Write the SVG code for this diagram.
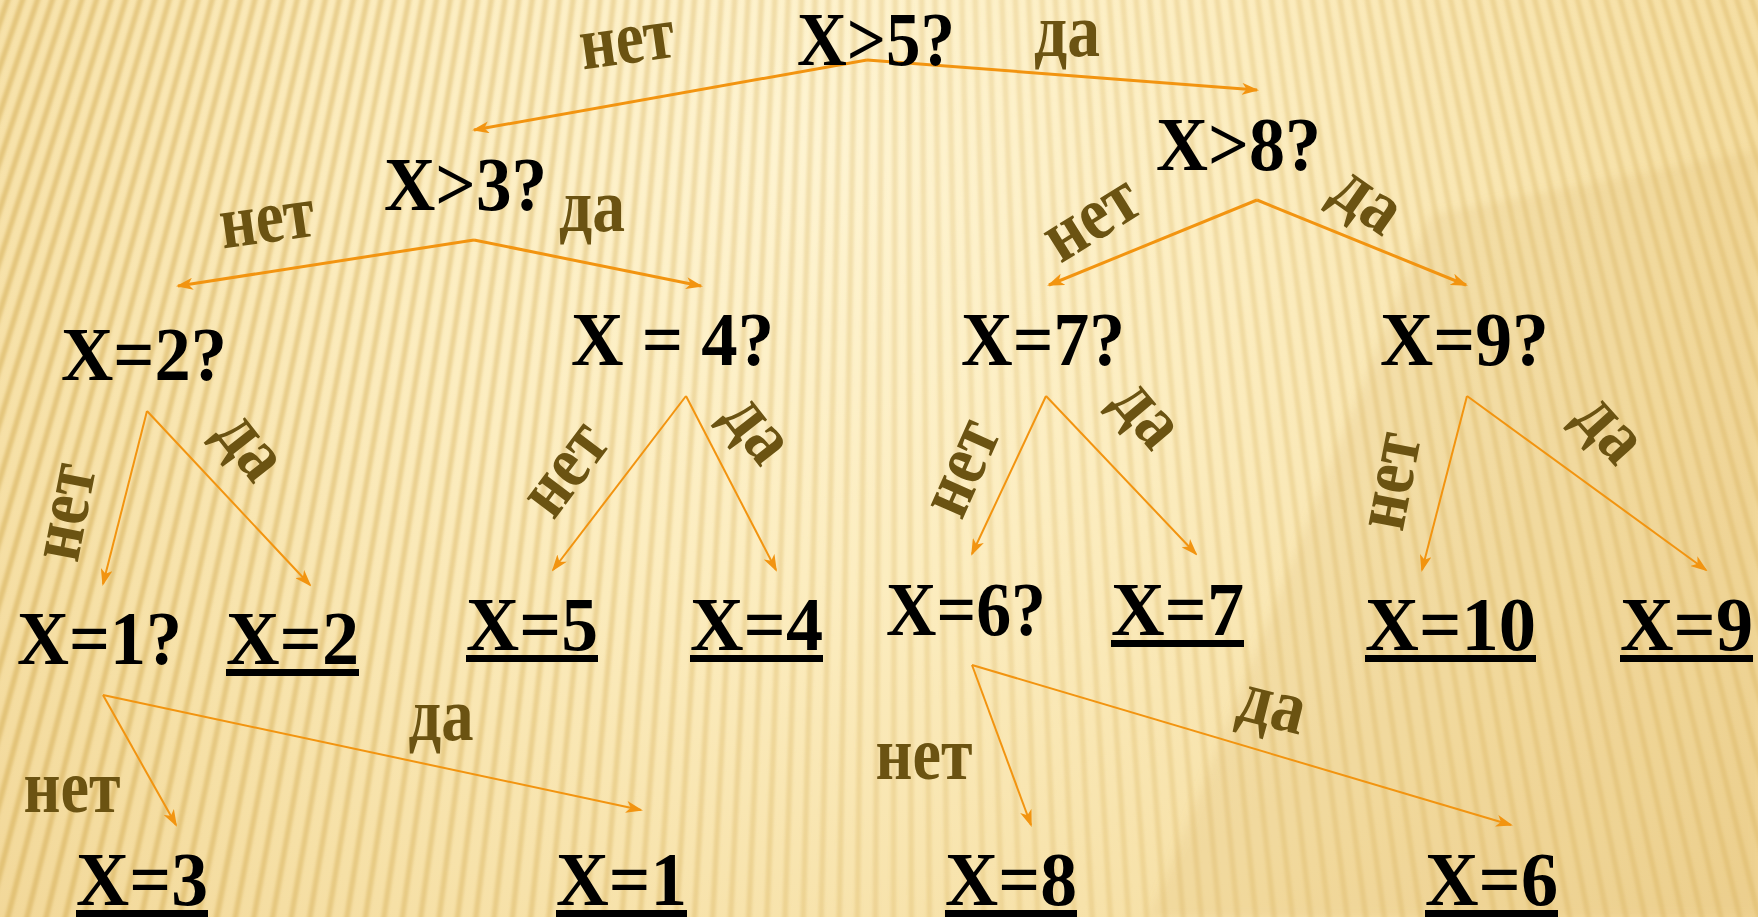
<svg xmlns="http://www.w3.org/2000/svg" width="1758" height="917" viewBox="0 0 1758 917">
  <defs>
    <radialGradient id="bg" gradientUnits="userSpaceOnUse" cx="820" cy="140" r="1250">
      <stop offset="0" stop-color="#fef4d2"/>
      <stop offset="0.35" stop-color="#fcedc0"/>
      <stop offset="0.7" stop-color="#f6e0a6"/>
      <stop offset="1" stop-color="#f0d493"/>
    </radialGradient>
    <linearGradient id="stripeGrad" gradientUnits="userSpaceOnUse" x1="0" y1="0" x2="1758" y2="0">
      <stop offset="0" stop-color="#d4ad55" stop-opacity="0.55"/>
      <stop offset="0.3" stop-color="#d4ad55" stop-opacity="0.40"/>
      <stop offset="0.55" stop-color="#d4ad55" stop-opacity="0.25"/>
      <stop offset="1" stop-color="#d4ad55" stop-opacity="0.35"/>
    </linearGradient>
    <filter id="soft" x="-0.1" y="-0.1" width="1.2" height="1.2">
      <feGaussianBlur stdDeviation="1.6"/>
    </filter>
    <filter id="soft2" x="-0.2" y="-0.2" width="1.4" height="1.4">
      <feGaussianBlur stdDeviation="5"/>
    </filter>
    <marker id="ah" viewBox="0 0 17 12" refX="15" refY="6" markerWidth="17" markerHeight="12" markerUnits="userSpaceOnUse" orient="auto">
      <path d="M0,0 L17,6 L0,12 L4.5,6 z" fill="#f29410"/>
    </marker>
    <style>
      .n { font-family: "Liberation Serif", "Times New Roman", serif; font-weight: bold; font-size: 76px; fill: #000; }
      .l { font-family: "Liberation Serif", "Times New Roman", serif; font-weight: bold; font-size: 76px; fill: #6b5312; text-anchor: middle; }
      .ul { fill: #000; }
      .e { fill: none; stroke: #f29410; marker-end: url(#ah); }
      .e3 { stroke-width: 3; }
      .e2 { stroke-width: 2; }
    </style>
  </defs>

  <g id="background">
    <rect x="0" y="0" width="1758" height="917" fill="url(#bg)"/>
    <polygon points="1430,215 1758,150 1758,917 1150,917" fill="#d2ad5c" fill-opacity="0.16" filter="url(#soft2)"/>
    <circle cx="900" cy="-2600" r="3115" fill="none" stroke="url(#stripeGrad)" stroke-width="1050" stroke-dasharray="5.5 10.5" filter="url(#soft)"/>
  </g>

  <g id="connectors">
    <path class="e e3" d="M867,60 L474,130"/>
    <path class="e e3" d="M867,60 L1257,90"/>
    <path class="e e3" d="M474,240 L178,286"/>
    <path class="e e3" d="M474,240 L701,286"/>
    <path class="e e3" d="M1257,200 L1049,285"/>
    <path class="e e3" d="M1257,200 L1466,285"/>
    <path class="e e2" d="M147,411 L103,584"/>
    <path class="e e2" d="M147,411 L310,585"/>
    <path class="e e2" d="M686,396 L553,570"/>
    <path class="e e2" d="M686,396 L776,570"/>
    <path class="e e2" d="M1046,396 L972,554"/>
    <path class="e e2" d="M1046,396 L1196,554"/>
    <path class="e e2" d="M1467,396 L1422,570"/>
    <path class="e e2" d="M1467,396 L1706,570"/>
    <path class="e e2" d="M103,695 L176,825"/>
    <path class="e e2" d="M103,695 L641,810"/>
    <path class="e e2" d="M972,665 L1031,825"/>
    <path class="e e2" d="M972,665 L1511,825"/>
  </g>

  <g id="edge-labels">
    <text class="l" transform="translate(630,63) rotate(-8)" x="0" y="0" textLength="95" lengthAdjust="spacingAndGlyphs">нет</text>
    <text class="l" x="1067" y="56" textLength="66" lengthAdjust="spacingAndGlyphs">да</text>
    <text class="l" transform="translate(270,242) rotate(-8)" x="0" y="0" textLength="95" lengthAdjust="spacingAndGlyphs">нет</text>
    <text class="l" x="592" y="231" textLength="66" lengthAdjust="spacingAndGlyphs">да</text>
    <text class="l" transform="translate(1094,223) rotate(-32)" x="0" y="17" textLength="100" lengthAdjust="spacingAndGlyphs">нет</text>
    <text class="l" transform="translate(1362,208) rotate(35)" x="0" y="12" textLength="68" lengthAdjust="spacingAndGlyphs">да</text>
    <text class="l" transform="translate(70,513) rotate(-79)" x="0" y="17" textLength="97" lengthAdjust="spacingAndGlyphs">нет</text>
    <text class="l" transform="translate(243,452) rotate(52)" x="0" y="12" textLength="66" lengthAdjust="spacingAndGlyphs">да</text>
    <text class="l" transform="translate(569,472) rotate(-53)" x="0" y="17" textLength="97" lengthAdjust="spacingAndGlyphs">нет</text>
    <text class="l" transform="translate(750,435) rotate(52)" x="0" y="12" textLength="66" lengthAdjust="spacingAndGlyphs">да</text>
    <text class="l" transform="translate(966,470) rotate(-66)" x="0" y="17" textLength="97" lengthAdjust="spacingAndGlyphs">нет</text>
    <text class="l" transform="translate(1140,420) rotate(50)" x="0" y="12" textLength="66" lengthAdjust="spacingAndGlyphs">да</text>
    <text class="l" transform="translate(1395,482) rotate(-79)" x="0" y="17" textLength="97" lengthAdjust="spacingAndGlyphs">нет</text>
    <text class="l" transform="translate(1603,435) rotate(48)" x="0" y="12" textLength="66" lengthAdjust="spacingAndGlyphs">да</text>
    <text class="l" x="72" y="812" textLength="97" lengthAdjust="spacingAndGlyphs">нет</text>
    <text class="l" x="441" y="740" textLength="65" lengthAdjust="spacingAndGlyphs">да</text>
    <text class="l" x="924" y="779" textLength="97" lengthAdjust="spacingAndGlyphs">нет</text>
    <text class="l" transform="translate(1270,715) rotate(14)" x="0" y="12" textLength="67" lengthAdjust="spacingAndGlyphs">да</text>
  </g>

  <g id="n1"><text class="n" x="797" y="65" textLength="158" lengthAdjust="spacingAndGlyphs">X&gt;5?</text></g>
  <g id="n2"><text class="n" x="1156" y="170" textLength="165" lengthAdjust="spacingAndGlyphs">X&gt;8?</text></g>
  <g id="n3"><text class="n" x="384" y="210" textLength="163" lengthAdjust="spacingAndGlyphs">X&gt;3?</text></g>
  <g id="n4"><text class="n" x="61" y="380" textLength="166" lengthAdjust="spacingAndGlyphs">X=2?</text></g>
  <g id="n5"><text class="n" x="571" y="365" textLength="203" lengthAdjust="spacingAndGlyphs">X = 4?</text></g>
  <g id="n6"><text class="n" x="961" y="365" textLength="164" lengthAdjust="spacingAndGlyphs">X=7?</text></g>
  <g id="n7"><text class="n" x="1380" y="365" textLength="169" lengthAdjust="spacingAndGlyphs">X=9?</text></g>
  <g id="n8"><text class="n" x="17" y="664" textLength="165" lengthAdjust="spacingAndGlyphs">X=1?</text></g>
  <g id="n9"><text class="n" x="226" y="664" textLength="133" lengthAdjust="spacingAndGlyphs">X=2</text><rect class="ul" x="226" y="669" width="133" height="7"/></g>
  <g id="n10"><text class="n" x="466" y="650" textLength="132" lengthAdjust="spacingAndGlyphs">X=5</text><rect class="ul" x="466" y="655" width="132" height="7"/></g>
  <g id="n11"><text class="n" x="690" y="650" textLength="133" lengthAdjust="spacingAndGlyphs">X=4</text><rect class="ul" x="690" y="655" width="133" height="7"/></g>
  <g id="n12"><text class="n" x="886" y="635" textLength="160" lengthAdjust="spacingAndGlyphs">X=6?</text></g>
  <g id="n13"><text class="n" x="1111" y="635" textLength="133" lengthAdjust="spacingAndGlyphs">X=7</text><rect class="ul" x="1111" y="640" width="133" height="7"/></g>
  <g id="n14"><text class="n" x="1365" y="650" textLength="171" lengthAdjust="spacingAndGlyphs">X=10</text><rect class="ul" x="1365" y="655" width="171" height="7"/></g>
  <g id="n15"><text class="n" x="1620" y="650" textLength="133" lengthAdjust="spacingAndGlyphs">X=9</text><rect class="ul" x="1620" y="655" width="133" height="7"/></g>
  <g id="n16"><text class="n" x="76" y="905" textLength="132" lengthAdjust="spacingAndGlyphs">X=3</text><rect class="ul" x="76" y="910" width="132" height="7"/></g>
  <g id="n17"><text class="n" x="556" y="905" textLength="131" lengthAdjust="spacingAndGlyphs">X=1</text><rect class="ul" x="556" y="910" width="131" height="7"/></g>
  <g id="n18"><text class="n" x="945" y="905" textLength="132" lengthAdjust="spacingAndGlyphs">X=8</text><rect class="ul" x="945" y="910" width="132" height="7"/></g>
  <g id="n19"><text class="n" x="1425" y="905" textLength="133" lengthAdjust="spacingAndGlyphs">X=6</text><rect class="ul" x="1425" y="910" width="133" height="7"/></g>
</svg>
